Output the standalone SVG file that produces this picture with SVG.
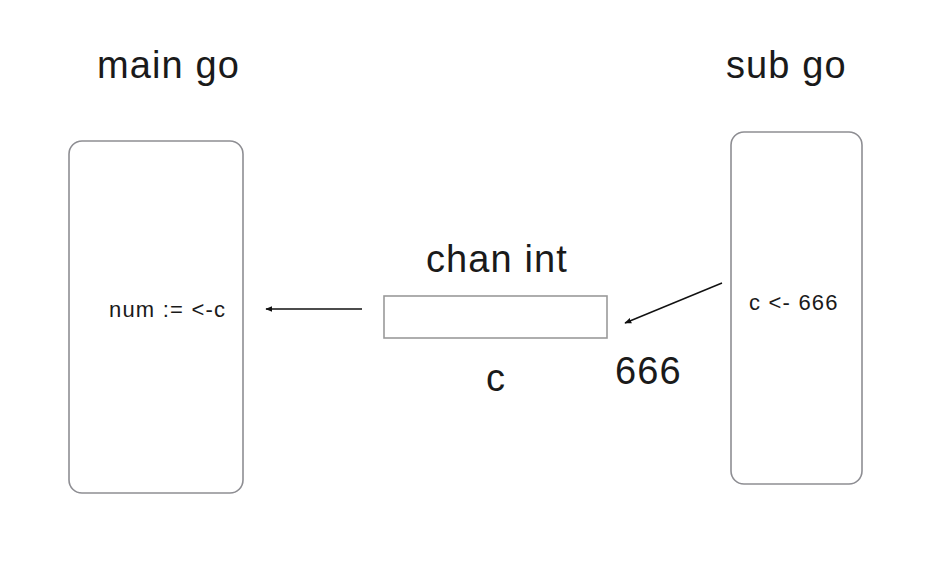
<svg xmlns="http://www.w3.org/2000/svg" width="928" height="565" viewBox="0 0 928 565">
<defs>
<style>
.box{fill:#fff;stroke:#8e8e93;stroke-width:1.6}
.chan{fill:#fff;stroke:#9a9a9a;stroke-width:1.6}
.big{font-family:"Liberation Sans",Arial,sans-serif;font-size:38px;fill:#1a1a1a;letter-spacing:1.1px}
.small{font-family:"Liberation Sans",Arial,sans-serif;font-size:22px;fill:#1a1a1a;letter-spacing:1.2px}
.conn{stroke:#111;stroke-width:1.4;fill:none;marker-end:url(#ah)}
</style>
<marker id="ah" viewBox="0 0 10 10" refX="9" refY="5" markerWidth="7" markerHeight="7" markerUnits="userSpaceOnUse" orient="auto">
<path d="M0,1 L10,5 L0,9 Z" fill="#111"/>
</marker>
</defs>
<rect width="928" height="565" fill="#fff"/>
<g id="main">
<text class="big" x="97" y="78" letter-spacing="1.4">main go</text>
<rect class="box" x="69" y="141" width="174" height="352" rx="13"/>
<text class="small" x="109" y="317" letter-spacing="1.9">num := &lt;-c</text>
</g>
<g id="sub">
<text class="big" x="726" y="78" font-size="39" letter-spacing="1.6">sub go</text>
<rect class="box" x="731" y="132" width="131" height="352" rx="13"/>
<text class="small" x="749" y="310" letter-spacing="1.3">c &lt;- 666</text>
</g>
<g id="chan">
<text class="big" x="426" y="272">chan int</text>
<rect class="chan" x="384" y="296" width="223" height="42"/>
<text class="big" x="486" y="391">c</text>
<text class="big" x="615" y="384" letter-spacing="1">666</text>
</g>
<g id="connectors">
<line class="conn" x1="362" y1="309" x2="266" y2="309"/>
<line class="conn" x1="722" y1="283" x2="625" y2="323"/>
</g>
</svg>
